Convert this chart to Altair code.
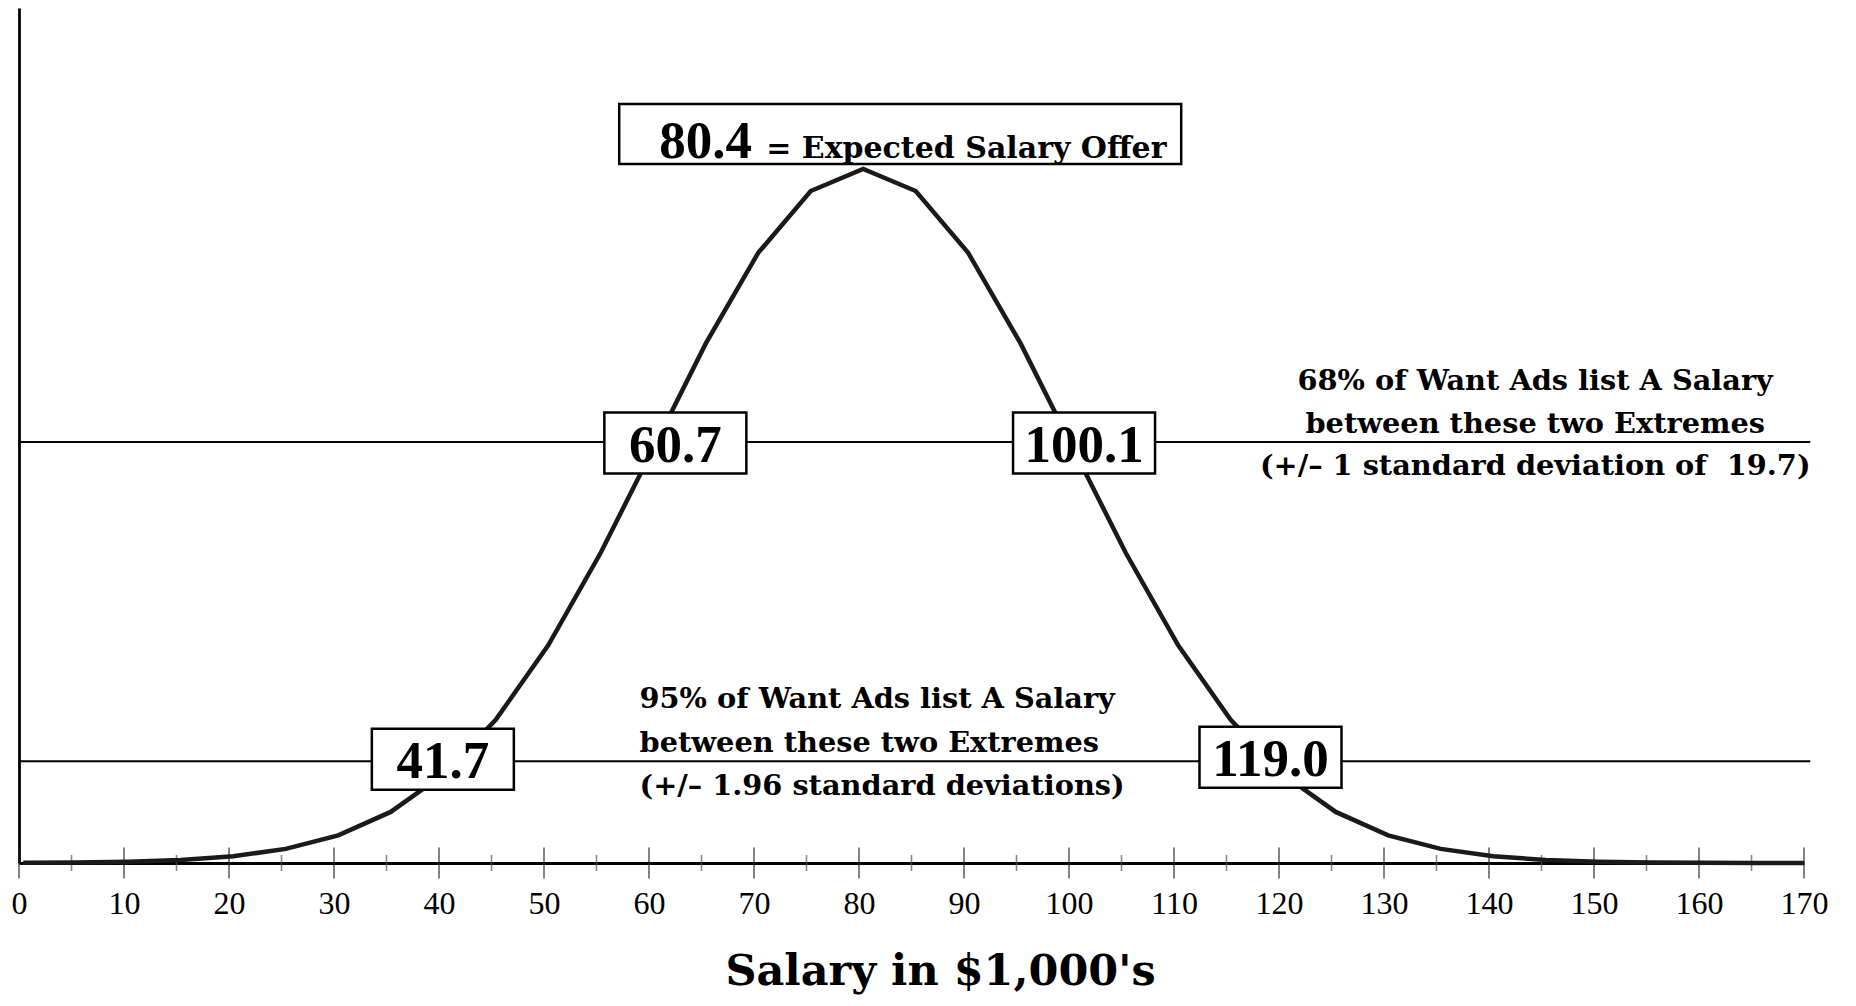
import altair as alt
import pandas as pd

# ---------------- data ----------------
salary_x = [0.4, 5.4, 10.4, 15.4, 20.4, 25.4, 30.4, 35.4, 40.4, 45.4, 50.4, 55.4,
            60.4, 65.4, 70.4, 75.4, 80.4, 85.4, 90.4, 95.4, 100.4, 105.4, 110.4,
            115.4, 120.4, 125.4, 130.4, 135.4, 140.4, 145.4, 150.4, 155.4, 160.4,
            165.4, 170.0]
rel_density = [0.00026, 0.00071, 0.00181, 0.00432, 0.00968, 0.0203, 0.0399, 0.0736,
               0.1273, 0.2063, 0.3136, 0.4470, 0.5973, 0.7483, 0.8791, 0.9683, 1.0,
               0.9683, 0.8791, 0.7483, 0.5973, 0.4470, 0.3136, 0.2063, 0.1273, 0.0736,
               0.0399, 0.0203, 0.00968, 0.00432, 0.00181, 0.00071, 0.00026, 0.00009,
               0.00003]

major_ticks = [0, 10, 20, 30, 40, 50, 60, 70, 80, 90, 100, 110, 120, 130, 140, 150, 160, 170]
minor_ticks = [5, 15, 25, 35, 45, 55, 65, 75, 85, 95, 105, 115, 125, 135, 145, 155, 165]

mean_value = 80.4
mean_label = "80.4"
mean_text = "= Expected Salary Offer"

level_68 = 0.6065
level_95 = 0.1465

box_labels = ["60.7", "100.1", "41.7", "119.0"]
box_values = [60.7, 100.1, 41.7, 119.0]
box_levels = [level_68, level_68, level_95, level_95]

text_68 = ["68% of Want Ads list A Salary",
           "between these two Extremes",
           "(+/\u2013 1 standard deviation of\u00a0 19.7)"]
text_95 = ["95% of Want Ads list A Salary",
           "between these two Extremes",
           "(+/\u2013 1.96 standard deviations)"]
text_68_x = 144.4
text_95_x = 59.1

# ---------------- styling ----------------
SERIF = "DejaVu Serif"
NUM = "Liberation Serif"

W, H = 1785, 855
xscale = alt.Scale(domain=[0, 170], nice=False, zero=False)
yscale = alt.Scale(domain=[0, 1.232], nice=False, zero=False)

xaxis = alt.Axis(values=major_ticks, format="d", ticks=False, tickSize=0, grid=False,
                 domainColor="black", domainWidth=2.8,
                 labelFont=NUM, labelFontSize=32, labelColor="black",
                 labelPadding=25, labelFlush=False, labelOverlap=False,
                 title="Salary in $1,000's", titleFont=SERIF, titleFontSize=43,
                 titleFontWeight="bold", titleColor="black",
                 titleX=921, titleY=121, titleAlign="center",
                 titleBaseline="alphabetic")
yaxis = alt.Axis(labels=False, ticks=False, grid=False, title=None,
                 domainColor="black", domainWidth=2.8)


def X(f="x"):
    return alt.X(f"{f}:Q", scale=xscale, axis=xaxis)


def Y(f="y"):
    return alt.Y(f"{f}:Q", scale=yscale, axis=yaxis)


layers = []

# horizontal level lines
rules_df = pd.DataFrame({"x": [0, 0], "x2": [170.6, 170.6], "y": [level_68, level_95]})
layers.append(alt.Chart(rules_df).mark_rule(color="black", strokeWidth=2).encode(
    x=X(), x2="x2:Q", y=Y()))

# axis ticks crossing the axis line
maj_df = pd.DataFrame({"x": major_ticks, "y": [0] * len(major_ticks)})
min_df = pd.DataFrame({"x": minor_ticks, "y": [0] * len(minor_ticks)})
layers.append(alt.Chart(maj_df).mark_tick(orient="vertical", size=31, thickness=1.6,
                                          color="#222222").encode(x=X(), y=Y()))
layers.append(alt.Chart(min_df).mark_tick(orient="vertical", size=16, thickness=1.6,
                                          color="#555555").encode(x=X(), y=Y()))

# the curve
curve_df = pd.DataFrame({"x": salary_x, "y": rel_density})
layers.append(alt.Chart(curve_df).mark_line(color="#1a1a1a", strokeWidth=4.5).encode(
    x=X(), y=Y()))


def box_shape(w, h):
    r = h / w
    return f"M-1,-{r:.4f}L1,-{r:.4f}L1,{r:.4f}L-1,{r:.4f}Z", w * w


# mean box
mean_df = pd.DataFrame({"x": [mean_value], "y": [1.0]})
shp, sz = box_shape(562, 60)
layers.append(alt.Chart(mean_df).mark_point(shape=shp, size=sz, filled=True, fill="white",
                                            stroke="black", strokeWidth=2.5, opacity=1,
                                            xOffset=37, yOffset=-35).encode(x=X(), y=Y()))
layers.append(alt.Chart(mean_df).mark_text(text=mean_label, font=NUM, fontWeight="bold",
                                           fontSize=53, align="left", baseline="alphabetic",
                                           dx=-204, dy=-11, color="black").encode(x=X(), y=Y()))
layers.append(alt.Chart(mean_df).mark_text(text=mean_text, font=SERIF, fontWeight="bold",
                                           fontSize=30, align="left", baseline="alphabetic",
                                           dx=-97, dy=-11, color="black").encode(x=X(), y=Y()))

# value boxes
box_dx = [19, 14, -14, 2]
box_dy = [1, 1, -2, -4]
for lab, val, lvl, dx, dy in zip(box_labels, box_values, box_levels, box_dx, box_dy):
    d = pd.DataFrame({"x": [val], "y": [lvl], "t": [lab]})
    shp, sz = box_shape(142, 61)
    layers.append(alt.Chart(d).mark_point(shape=shp, size=sz, filled=True, fill="white",
                                          stroke="black", strokeWidth=2.5, opacity=1,
                                          xOffset=dx, yOffset=dy).encode(x=X(), y=Y()))
    layers.append(alt.Chart(d).mark_text(font=NUM, fontWeight="bold", fontSize=53,
                                         align="center", baseline="alphabetic",
                                         dx=dx, dy=dy + 19, color="black").encode(
        x=X(), y=Y(), text="t:N"))

# explanatory texts
for lines, xpos, lvl, align, dys in [
    (text_68, text_68_x, level_68, "center", [-52, -9, 33]),
    (text_95, text_95_x, level_95, "left", [-53, -9, 34]),
]:
    for line, dy in zip(lines, dys):
        d = pd.DataFrame({"x": [xpos], "y": [lvl], "t": [line]})
        layers.append(alt.Chart(d).mark_text(font=SERIF, fontWeight="bold", fontSize=28.8,
                                             align=align, baseline="alphabetic", dy=dy,
                                             color="black").encode(
            x=X(), y=Y(), text="t:N"))

chart = alt.layer(*layers).properties(
    width=W, height=H,
    autosize=alt.AutoSizeParams(type="none"),
    padding={"left": 11, "top": 0, "right": 40, "bottom": 135},
    background="white",
).configure_view(stroke=None)

chart.save("out.html", embed_options={"renderer": "svg", "actions": False})
